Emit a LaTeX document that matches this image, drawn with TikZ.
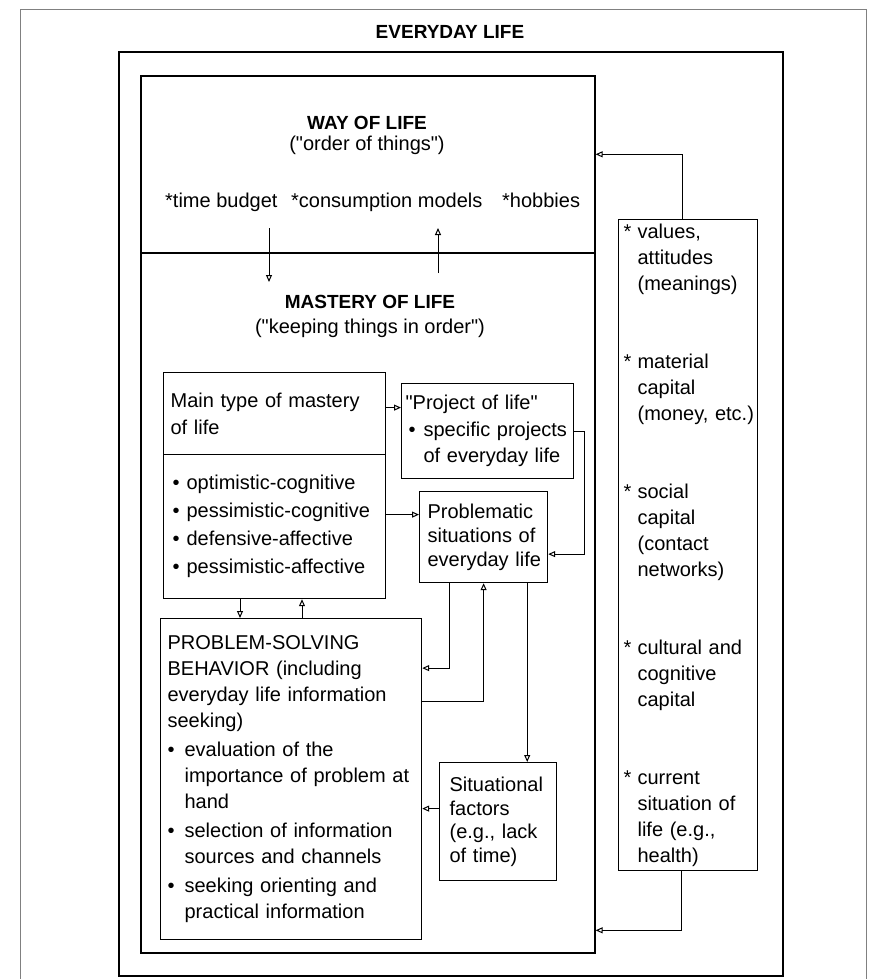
\documentclass[tikz,border=0pt]{standalone}
\usepackage{fontspec}
\setmainfont{Liberation Sans}[Ligatures=TeXOff]
\usetikzlibrary{arrows.meta}
% bullet and star items
\newcommand{\bul}[1][17pt]{\makebox[#1][l]{\textbullet}}
\newcommand{\bulind}[1][17pt]{\hspace*{#1}}
\newcommand{\st}{\makebox[14pt][l]{*}}
\newcommand{\stind}{\hspace*{14pt}}
\newcommand{\qt}{\symbol{34}}
\begin{document}
\begin{tikzpicture}[x=1pt,y=-1pt,
	box/.style={draw,line width=1.2pt,anchor=north west,inner sep=0pt,align=left},
	frame/.style={draw,line width=1.6pt,anchor=north west,inner sep=0pt},
	arr/.style={line width=1pt,-{Triangle[open,length=7pt,width=6pt]}},
	txt/.style={inner sep=0pt,font=\fontsize{20}{26}\selectfont},
	head/.style={inner sep=0pt,font=\fontsize{19}{24}\selectfont\bfseries}]
	\useasboundingbox (0,0) rectangle (868,979);
	% page border
	\draw[gray,line width=0.6pt] (20,979) -- (20,9) -- (866,9) -- (866,979);
	% everyday life frame
	\node[frame,minimum width=664pt,minimum height=924pt] (everyday) at (118,51) {};
	\node[head] (title) at (450,32) {EVERYDAY LIFE};
	% way of life / mastery of life
	\node[frame,minimum width=454pt,minimum height=877pt] (life) at (140,75) {};
	\draw[line width=1.2pt] (140,253) -- (594,253);
	\node[head] (way) at (367,123) {WAY OF LIFE};
	\node[txt] (order) at (367,145) {(\qt order of things\qt)};
	\node[txt,anchor=base west] (budget) at (165,207) {*time budget};
	\node[txt,anchor=base west] (consum) at (291,207) {*consumption models};
	\node[txt,anchor=base west] (hobbies) at (502,207) {*hobbies};
	\coordinate (dn) at (269,228);
	\coordinate (up) at (438,273);
	\draw[arr] (dn) -- ++(0,54);
	\draw[arr] (up) -- ++(0,-45);
	\node[head] (mastery) at (370,302) {MASTERY OF LIFE};
	\node[txt] (keeping) at (370,328) {(\qt keeping things in order\qt)};
	% boxes
	\node[box,minimum width=222pt,minimum height=82pt,inner xsep=7pt,text width=208pt,
		font=\fontsize{20}{27}\selectfont] (mtype) at (163,372) {Main type of mastery\\of life};
	\node[box,minimum width=222pt,minimum height=144pt,inner xsep=7pt,text width=208pt,
		font=\fontsize{20}{28}\selectfont] (mlist) at (163,454)
		{\hspace*{2pt}\bul[14pt]optimistic-cognitive\\\hspace*{2pt}\bul[14pt]pessimistic-cognitive\\
		 \hspace*{2pt}\bul[14pt]defensive-affective\\\hspace*{2pt}\bul[14pt]pessimistic-affective};
	\node[box,minimum width=172pt,minimum height=95pt,inner xsep=4pt,text width=164pt,
		font=\fontsize{20}{26.5}\selectfont] (project) at (401,383)
		{\qt Project of life\qt\\\hspace*{3pt}\bul[15pt]\mbox{specific projects}\\\bulind[18pt]\mbox{of everyday life}};
	\node[box,minimum width=128pt,minimum height=91pt,inner xsep=8pt,text width=112pt,
		font=\fontsize{20}{24}\selectfont] (problem) at (419,491)
		{Problematic\\\mbox{situations of}\\\mbox{everyday life}};
	\node[box,minimum width=261pt,minimum height=321pt,inner xsep=7pt,text width=247pt,
		font=\fontsize{20}{26}\selectfont] (ps) at (160,618)
		{PROBLEM-SOLVING\\BEHAVIOR (including\\everyday life information\\seeking)\\[3pt]
		 \bul evaluation of the\\\bulind importance of problem at\\\bulind hand\\[3pt]
		 \bul selection of information\\\bulind sources and channels\\[3pt]
		 \bul seeking orienting and\\\bulind practical information};
	\node[box,minimum width=117pt,minimum height=118pt,inner xsep=10pt,text width=97pt,
		font=\fontsize{20}{23.5}\selectfont] (sit) at (439,762) {Situational\\factors\\(e.g., lack\\of time)};
	\node[box,minimum width=139pt,minimum height=651pt,inner xsep=5pt,text width=129pt,
		font=\fontsize{20}{26}\selectfont] (capitals) at (618,219)
		{\st values,\\\stind attitudes\\\stind (meanings)\\[52pt]
		 \st material\\\stind capital\\\stind\mbox{(money, etc.)}\\[52pt]
		 \st social\\\stind capital\\\stind (contact\\\stind networks)\\[52pt]
		 \st \mbox{cultural and}\\\stind cognitive\\\stind capital\\[52pt]
		 \st current\\\stind \mbox{situation of}\\\stind \mbox{life (e.g.,}\\\stind health)};
	% connectors
	\coordinate (t0) at ([yshift=6pt]mtype.east);
	\draw[arr] (t0) -- (t0 -| project.west);
	\coordinate (t1) at ([yshift=12pt]mlist.east);
	\draw[arr] (t1) -- (t1 -| problem.west);
	\draw[arr] (project.east) -- ++(10,0) |- ([yshift=-17pt]problem.east);
	\coordinate (m1) at ([xshift=77pt]mlist.south west);
	\coordinate (m2) at ([xshift=139pt]mlist.south west);
	\draw[arr] (m1) -- (m1 |- ps.north);
	\draw[arr] (m2 |- ps.north) -- (m2);
	\coordinate (p1) at ([xshift=30pt]problem.south west);
	\draw[arr] (p1) |- ([yshift=111pt]ps.east);
	\draw[arr] ([yshift=78pt]ps.east) -| (problem.south);
	\coordinate (p3) at ([xshift=-21pt]problem.south east);
	\draw[arr] (p3) -- (p3 |- sit.north);
	\coordinate (s1) at ([yshift=13pt]sit.west);
	\draw[arr] (s1) -- (s1 -| ps.east);
	% resources -> way of life / mastery of life
	\draw[arr] ([xshift=-6pt]capitals.north) |- ([yshift=360pt]life.east);
	\draw[arr] ([xshift=-7pt]capitals.south) |- ([yshift=-416pt]life.east);
\end{tikzpicture}
\end{document}
